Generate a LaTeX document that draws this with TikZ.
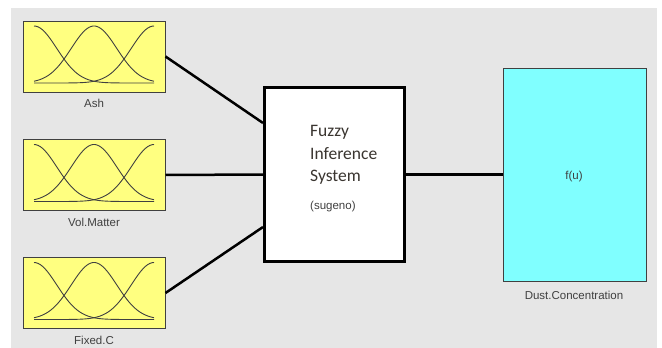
\documentclass[tikz,border=0pt]{standalone}
\usepackage{fontspec}
\setmainfont{Liberation Sans}
\newfontfamily\calib{Carlito}
\usetikzlibrary{calc}
\definecolor{bggray}{HTML}{E6E6E6}
\definecolor{mfyellow}{HTML}{FFFF80}
\definecolor{outcyan}{HTML}{80FFFF}
\definecolor{edgegray}{HTML}{404040}
\definecolor{labgray}{HTML}{404040}
\definecolor{fistext}{HTML}{3A3530}
\tikzset{
  mfbox/.style={draw=edgegray, line width=1pt, fill=mfyellow, minimum width=142pt, minimum height=71pt, inner sep=0pt},
  fisbox/.style={draw=black, line width=3pt, fill=white, minimum width=140pt, minimum height=174pt, inner sep=0pt},
  outbox/.style={draw=edgegray, line width=1pt, fill=outcyan, minimum width=143pt, minimum height=213pt, inner sep=0pt},
  lab/.style={text=labgray, font=\fontsize{11.5}{13}\selectfont, inner sep=0pt},
  conn/.style={draw=black, line width=2.5pt},
  mfline/.style={draw=edgegray, line width=0.9pt},
  mfs/.pic={
    \draw[mfline] plot[domain=-60:60,samples=60] (\x,{26.5-57*exp(0-(\x+60)*(\x+60)/1038)});
    \draw[mfline] plot[domain=-60:60,samples=60] (\x,{26.5-57*exp(0-(\x)*(\x)/1038)});
    \draw[mfline] plot[domain=-60:60,samples=60] (\x,{26.5-57*exp(0-(\x-60)*(\x-60)/1038)});
  }
}
\begin{document}
\begin{tikzpicture}[x=1pt,y=-1pt]
\useasboundingbox (0,0) rectangle (662,348);
\fill[bggray] (11,8) rectangle (657,348);

\node[mfbox] (ash) at (94,56.5) {};
\node[mfbox] (vol) at (94,175) {};
\node[mfbox] (fixed) at (94,293) {};
\pic at (ash.center) {mfs};
\pic at (vol.center) {mfs};
\pic at (fixed.center) {mfs};
\node[lab] (ashlab) at (94,103) {Ash};
\node[lab] (vollab) at (94,222) {Vol.Matter};
\node[lab] (fixedlab) at (94,340) {Fixed.C};

\node[fisbox] (fis) at (334.5,174.5) {};
\node[anchor=west, inner sep=0pt, text=fistext, font=\calib\fontsize{17.5}{22.5}\selectfont, align=left] (fistxt) at (310,155) {Fuzzy\\Inference\\System};
\node[anchor=west, inner sep=0pt, text=labgray, font=\fontsize{11.5}{13}\selectfont] (sug) at (310,207) {(sugeno)};

\node[outbox] (out) at (574.5,174.5) {};
\node[lab] (fu) at (574,177) {f(u)};
\node[lab] (outlab) at (574,295) {Dust.Concentration};

\draw[conn] (ash.east) -- ([yshift=51.5pt]fis.west);
\draw[conn] (vol.east) -- (fis.west);
\draw[conn] (fixed.east) -- ([yshift=-52.5pt]fis.west);
\draw[conn] (fis.east) -- (out.west);
\end{tikzpicture}
\end{document}
